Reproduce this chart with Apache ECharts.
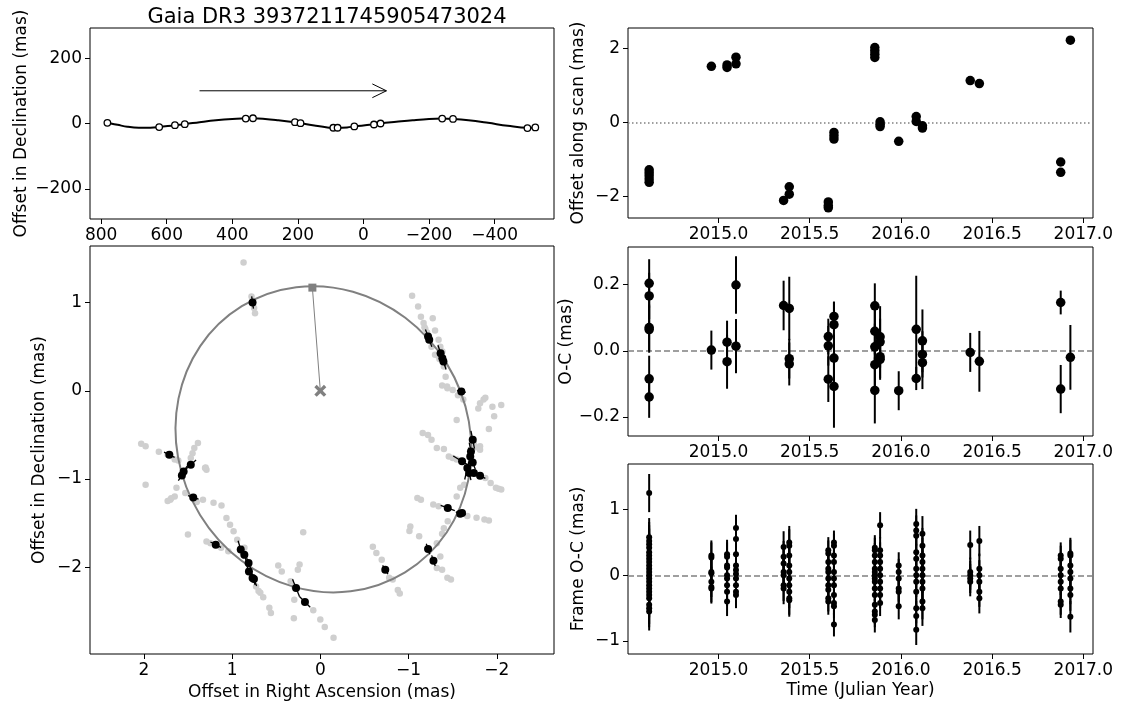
<!DOCTYPE html>
<html><head><meta charset="utf-8">
<script src="https://cdn.jsdelivr.net/npm/echarts@6/dist/echarts.min.js"></script>
<style>html,body{margin:0;padding:0;background:#fff}#c{width:1121px;height:706px}</style>
</head><body><div id="c"></div><script>
// ---------- Top-left: sky track ----------
const trackRA  = [781,750,720,685,650,623,575,545,500,450,400,359,337,300,260,209,192,150,110,92,79,50,28,-5,-32,-52,-100,-150,-200,-240,-273,-320,-380,-440,-500,-524];
const trackDec = [2,-4,-10,-13,-13,-11,-5,-2,4,10,14,15.5,16,14,10,4,1,-6,-12,-13,-13.5,-12,-9,-5,-3,0,5,10,14,15,14,10,2,-7,-13,-13];
const obsRA  = [781,623,575,545,359,337,209,192,92,79,28,-32,-52,-240,-273,-500,-524];
const obsDec = [2,-11,-5,-2,15,16,4,1,-13,-13,-9,-3,0,15,14,-14,-12];
const arrowShaftRA = [500,-70], arrowShaftDec = [100,100];
const arrowHeadRA = [-27,-70,-27], arrowHeadDec = [121,100,79];
const tlXTicks = [800,600,400,200,0,-200,-400];
const tlYTicks = [-200,0,200];

// ---------- Bottom-left: orbit ----------
// orbit ellipse: centre, semi-axes (mas), major-axis angle (deg, data frame)
const ellCenterRA = -0.035, ellCenterDec = -0.55;
const ellSemiMajor = 1.77, ellSemiMinor = 1.64, ellAngle = 58.5;
const grayRA  = [0.87,0.78,0.75,0.74,-1.04,-1.108,-1.14,-1.17,-1.18,-1.274,-1.30,-1.34,-1.36,-1.383,-1.26,-1.30,-1.40,-1.42,-1.436,-1.38,-1.44,-1.50,-1.85,-1.87,-1.95,-2.05,-1.81,-1.79,-1.545,-1.97,-1.91,-1.81,-1.81,-1.16,-1.22,-1.26,-1.32,-1.40,-1.456,-1.50,-1.545,-1.87,-1.93,-1.99,-2.05,-2.02,-1.545,-1.585,-1.63,-1.10,-1.14,-1.28,-1.34,-1.666,-1.77,-1.91,-1.86,-1.444,-1.40,-1.38,-1.02,-1.01,-1.12,-1.32,-1.36,-1.38,-1.44,-1.32,-1.48,-0.595,-0.635,-0.696,-0.78,-0.82,-0.878,-0.90,0.194,0.477,0.437,0.235,0.255,0.336,0.295,0.295,0.30,0.08,0.0,-0.05,-0.15,0.578,0.56,0.728,0.68,0.647,0.70,1.064,1.023,0.983,0.942,1.29,1.245,1.124,1.043,1.21,1.12,1.50,1.33,1.387,1.428,1.448,1.468,1.306,1.29,1.30,1.65,1.61,1.83,1.73,2.03,1.98,1.98,1.70,1.65,1.63,1.53,1.40,-1.19,-1.21,-1.33,-1.35,-1.56,-1.62,-1.74,-1.76,1.69,1.73,0.86,0.88];
const grayDec = [1.455,1.07,0.94,0.88,1.077,0.956,0.84,0.77,0.72,0.824,0.684,0.578,0.50,0.446,0.50,0.41,0.276,0.16,0.05,0.06,0.03,0.01,-0.10,-0.08,-0.18,-0.16,-0.14,-0.2,-0.33,-0.29,-0.434,-0.63,-0.67,-0.48,-0.50,-0.555,-0.65,-0.66,-0.744,-0.763,-0.78,-0.99,-1.046,-1.10,-1.12,-1.11,-1.20,-1.10,-1.065,-1.215,-1.235,-1.29,-1.31,-1.42,-1.44,-1.47,-1.46,-1.48,-1.56,-1.62,-1.54,-1.59,-1.65,-1.73,-1.88,-2.03,-2.12,-2.01,-2.14,-1.77,-1.84,-1.915,-2.12,-2.14,-2.26,-2.30,-1.605,-1.98,-2.05,-1.97,-2.03,-2.16,-2.22,-2.37,-2.58,-2.49,-2.595,-2.68,-2.80,-2.46,-2.52,-2.22,-2.29,-2.34,-2.27,-1.443,-1.519,-1.594,-1.689,-1.71,-1.73,-1.78,-1.82,-1.27,-1.30,-1.63,-1.235,-0.593,-0.65,-0.707,-0.763,-0.876,-0.895,-0.87,-0.78,-0.79,-0.69,-0.725,-0.60,-0.63,-1.065,-1.235,-1.198,-1.10,-1.16,-1.26,0.70,0.66,0.40,0.36,-0.05,-0.1,-0.6,-0.64,-1.22,-1.25,-1.78,-1.83];
const blackRA  = [0.768,-1.221,-1.234,-1.363,-1.383,-1.395,-1.598,-1.727,-1.707,-1.699,-1.606,-1.727,-1.666,-1.687,-1.74,-1.81,-1.444,-1.585,-1.606,-1.221,-1.282,-0.736,0.275,0.174,1.185,0.902,0.861,0.813,0.809,0.768,0.752,1.711,1.468,1.549,1.569,1.44];
const blackDec = [1.001,0.616,0.578,0.427,0.37,0.332,-0.008,-0.555,-0.688,-0.744,-0.80,-0.812,-0.876,-0.933,-0.933,-0.963,-1.33,-1.394,-1.386,-1.794,-1.927,-2.029,-2.237,-2.395,-1.745,-1.80,-1.86,-1.953,-2.048,-2.123,-2.135,-0.725,-0.839,-0.914,-0.96,-1.209];
const blackErrRA  = [0.01,0.03,0.03,0.03,0.03,0.03,-0.05,0.02,0.02,0.02,-0.1,0.03,-0.03,0.02,-0.06,-0.06,-0.08,-0.05,-0.04,0.02,0.02,0.03,0.04,-0.06,-0.06,-0.03,-0.03,-0.03,-0.03,-0.03,-0.03,-0.06,-0.06,-0.04,-0.04,-0.06];
const blackErrDec = [0.07,0.08,0.08,0.09,0.09,0.09,-0.01,0.1,0.1,0.1,-0.06,0.08,0.13,0.08,-0.03,-0.03,-0.03,-0.02,-0.02,0.06,0.06,0.05,0.1,-0.06,-0.03,-0.1,-0.1,-0.08,-0.08,-0.08,-0.08,-0.03,0.055,0.06,0.06,-0.02];
const periRA = [0.09], periDec = [1.17];
const centerRA = [0], centerDec = [0];
const blXTicks = [2,1,0,-1,-2];
const blYTicks = [-2,-1,0,1];

// ---------- Right: time series ----------
const timeTicks = [2015.0,2015.5,2016.0,2016.5,2017.0];
const scanTimes  = [2014.62,2014.62,2014.62,2014.62,2014.62,2014.961,2015.047,2015.047,2015.096,2015.096,2015.357,2015.388,2015.388,2015.602,2015.602,2015.602,2015.633,2015.633,2015.633,2015.857,2015.857,2015.857,2015.857,2015.886,2015.886,2015.886,2015.988,2016.084,2016.084,2016.118,2016.118,2016.38,2016.43,2016.876,2016.876,2016.929];
const scanValues = [-1.28,-1.36,-1.44,-1.53,-1.62,1.52,1.56,1.49,1.77,1.59,-2.11,-1.74,-1.94,-2.15,-2.25,-2.31,-0.27,-0.36,-0.45,2.03,1.94,1.85,1.76,0.02,-0.05,-0.11,-0.51,0.16,0.03,-0.09,-0.15,1.135,1.054,-1.07,-1.35,2.23];
const scanYTicks = [-2,0,2];

const ocTimes  = [2014.62,2014.62,2014.62,2014.62,2014.62,2014.62,2014.961,2015.047,2015.047,2015.096,2015.096,2015.357,2015.388,2015.388,2015.388,2015.602,2015.602,2015.602,2015.633,2015.633,2015.633,2015.633,2015.857,2015.857,2015.857,2015.857,2015.857,2015.886,2015.886,2015.886,2015.886,2015.988,2016.084,2016.084,2016.118,2016.118,2016.118,2016.38,2016.43,2016.876,2016.876,2016.929];
const ocValues = [0.204,0.166,0.07,0.064,-0.085,-0.14,0.002,0.026,-0.033,0.199,0.014,0.137,0.128,-0.024,-0.04,0.043,0.015,-0.086,0.104,0.079,-0.022,-0.108,0.136,0.059,0.012,-0.042,-0.12,0.042,0.027,-0.018,-0.026,-0.121,0.065,-0.084,0.03,-0.011,-0.036,-0.005,-0.032,0.146,-0.116,-0.02];
const ocErrs   = [0.073,0.07,0.07,0.07,0.07,0.063,0.059,0.065,0.082,0.087,0.082,0.075,0.096,0.06,0.065,0.054,0.06,0.069,0.043,0.07,0.07,0.125,0.068,0.07,0.07,0.07,0.1,0.093,0.07,0.07,0.057,0.059,0.162,0.035,0.095,0.07,0.08,0.059,0.092,0.036,0.073,0.098];
const ocYTicks = [-0.2,0.0,0.2];

const frameTimes = [2014.62,2014.961,2015.047,2015.096,2015.357,2015.388,2015.602,2015.633,2015.857,2015.886,2015.988,2016.084,2016.118,2016.38,2016.43,2016.876,2016.929];
const frameValues = [
  [1.25,0.58,0.52,0.47,0.42,0.35,0.3,0.25,0.2,0.15,0.1,0.05,0.0,-0.05,-0.1,-0.15,-0.2,-0.25,-0.3,-0.35,-0.45,-0.5,-0.55],
  [0.3,0.27,0.05,0.03,-0.1,-0.18,-0.2],
  [0.32,0.28,0.15,0.12,0.0,-0.05,-0.15,-0.25,-0.4],
  [0.72,0.55,0.32,0.15,0.08,0.02,-0.05,-0.15,-0.25,-0.3],
  [0.43,0.28,0.18,0.05,0.0,-0.15,-0.2],
  [0.5,0.45,0.3,0.15,0.05,-0.05,-0.15,-0.25,-0.35,-0.38],
  [0.38,0.33,0.2,0.1,0.05,-0.05,-0.15,-0.22,-0.35,-0.4],
  [0.5,0.45,0.3,0.2,0.05,-0.05,-0.15,-0.3,-0.42,-0.47,-0.75],
  [0.42,0.38,0.3,0.2,0.1,0.05,0.0,-0.05,-0.1,-0.2,-0.3,-0.45,-0.55,-0.6,-0.68],
  [0.76,0.38,0.3,0.2,0.1,0.0,-0.1,-0.2,-0.3,-0.42],
  [0.15,0.05,-0.05,-0.2,-0.25,-0.47],
  [0.78,0.68,0.6,0.35,0.25,0.1,0.0,-0.1,-0.25,-0.5,-0.62,-0.83],
  [0.63,0.45,0.3,0.2,0.1,0.0,-0.1,-0.2,-0.4,-0.5],
  [0.46,0.05,0.0,-0.05,-0.1],
  [0.52,0.1,0.0,-0.1,-0.25,-0.35],
  [0.3,0.25,0.1,0.0,-0.1,-0.2,-0.4,-0.45],
  [0.33,0.3,0.15,0.05,-0.05,-0.2,-0.3,-0.63]
];
const frameErrs = [0.29,0.23,0.22,0.2,0.24,0.25,0.2,0.18,0.19,0.2,0.2,0.23,0.27,0.22,0.23,0.2,0.24];
const frameYTicks = [-1,0,1];

// ---------- build ----------
const FONT = 'DejaVu Sans';
const FS = 17;
const fmt = d => v => { const s = Math.abs(v).toFixed(d); return v < 0 ? '\u2212' + s : s; };
const zip = (a, b) => a.map((x, i) => [x, b[i]]);

const L = 90, LW = 464, R = 628, RW = 465;
const grids = [
  {left: L, top: 28, width: LW, height: 191},
  {left: L, top: 246, width: LW, height: 408},
  {left: R, top: 28, width: RW, height: 190},
  {left: R, top: 247, width: RW, height: 189},
  {left: R, top: 464, width: RW, height: 190}
].map(g => Object.assign(g, {show: true, borderColor: '#000', borderWidth: 1, backgroundColor: '#fff', containLabel: false, outerBoundsMode: 'none'}));

function axis(gi, min, max, ticks, dec, extra) {
  return Object.assign({
    type: 'value', gridIndex: gi, min: min, max: max,
    axisLine: {show: false, onZero: false},
    axisTick: {show: true, length: 5, customValues: ticks, lineStyle: {color: '#000', width: 1}},
    axisLabel: {customValues: ticks, formatter: fmt(dec), fontSize: FS, fontFamily: FONT, color: '#000', margin: 8},
    splitLine: {show: false},
    nameTextStyle: {fontSize: FS, fontFamily: FONT, color: '#000'}
  }, extra || {});
}
const yName = (name, gap) => ({name: name, nameLocation: 'middle', nameRotate: 90, nameGap: gap});
const xName = (name, gap) => ({name: name, nameLocation: 'middle', nameGap: gap});

const xAxes = [
  axis(0, -581, 834, tlXTicks, 0, {inverse: true}),
  axis(1, -2.648, 2.61, blXTicks, 0, Object.assign({inverse: true}, xName('Offset in Right Ascension (mas)', 27))),
  axis(2, 2014.504, 2017.053, timeTicks, 1),
  axis(3, 2014.504, 2017.053, timeTicks, 1),
  axis(4, 2014.504, 2017.053, timeTicks, 1, xName('Time (Julian Year)', 28))
];
const yAxes = [
  axis(0, -292, 292, tlYTicks, 0, yName('Offset in Declination (mas)', 60)),
  axis(1, -2.985, 1.642, blYTicks, 0, yName('Offset in Declination (mas)', 42)),
  axis(2, -2.586, 2.559, scanYTicks, 0, yName('Offset along scan (mas)', 41)),
  axis(3, -0.258, 0.314, ocYTicks, 1, yName('O-C (mas)', 41)),
  axis(4, -1.197, 1.692, frameYTicks, 0, yName('Frame O-C (mas)', 41))
];

function errSeg(gi, data, color, width) {
  return {
    type: 'custom', xAxisIndex: gi, yAxisIndex: gi, data: data, encode: {x: 0, y: 1}, z: 4, silent: true,
    renderItem: (p, api) => {
      const x = api.value(0), y = api.value(1), dx = api.value(2), dy = api.value(3);
      const a = api.coord([x - dx, y - dy]), b = api.coord([x + dx, y + dy]);
      return {type: 'line', shape: {x1: a[0], y1: a[1], x2: b[0], y2: b[1]}, style: {stroke: color, lineWidth: width}};
    }
  };
}

// orbit ellipse drawn as a library ellipse element, positioned through the axes
const ellipseSeries = {
  type: 'custom', xAxisIndex: 1, yAxisIndex: 1, z: 2, silent: true,
  data: [[ellCenterRA, ellCenterDec, ellSemiMajor, ellSemiMinor, ellAngle]],
  encode: {x: 0, y: 1},
  renderItem: (p, api) => {
    const cx = api.value(0), cy = api.value(1), a = api.value(2), b = api.value(3), ang = api.value(4) * Math.PI / 180;
    const c = api.coord([cx, cy]);
    const pa = api.coord([cx + a * Math.cos(ang), cy + a * Math.sin(ang)]);
    const pb = api.coord([cx - b * Math.sin(ang), cy + b * Math.cos(ang)]);
    const rx = Math.hypot(pa[0] - c[0], pa[1] - c[1]);
    const ry = Math.hypot(pb[0] - c[0], pb[1] - c[1]);
    const phi = Math.atan2(pa[1] - c[1], pa[0] - c[0]);
    return {type: 'ellipse', x: c[0], y: c[1], rotation: -phi,
            shape: {cx: 0, cy: 0, rx: rx, ry: ry},
            style: {fill: 'none', stroke: '#808080', lineWidth: 2}};
  }
};

const frameData = [], frameBars = [];
frameTimes.forEach((t, i) => frameValues[i].forEach(v => { frameData.push([t, v]); frameBars.push([t, v, 0, frameErrs[i]]); }));

const dot = (c) => ({color: c, opacity: 1});
const series = [
  // top-left
  {type: 'line', xAxisIndex: 0, yAxisIndex: 0, data: zip(trackRA, trackDec), smooth: 0.4, showSymbol: false, symbol: 'none', lineStyle: {color: '#000', width: 2}, z: 2},
  {type: 'scatter', xAxisIndex: 0, yAxisIndex: 0, data: zip(obsRA, obsDec), symbol: 'circle', symbolSize: 6.5, itemStyle: {color: '#fff', borderColor: '#000', borderWidth: 1.3, opacity: 1}, z: 3},
  {type: 'line', xAxisIndex: 0, yAxisIndex: 0, data: zip(arrowShaftRA, arrowShaftDec), symbol: 'none', lineStyle: {color: '#000', width: 1}},
  {type: 'line', xAxisIndex: 0, yAxisIndex: 0, data: zip(arrowHeadRA, arrowHeadDec), symbol: 'none', lineStyle: {color: '#000', width: 1}},
  // orbit
  {type: 'scatter', xAxisIndex: 1, yAxisIndex: 1, data: zip(grayRA, grayDec), symbolSize: 6.5, itemStyle: dot('#cfcfcf'), z: 1},
  ellipseSeries,
  {type: 'line', xAxisIndex: 1, yAxisIndex: 1, data: [[periRA[0], periDec[0]], [centerRA[0], centerDec[0]]], symbol: 'none', lineStyle: {color: '#808080', width: 1}, z: 2},
  {type: 'scatter', xAxisIndex: 1, yAxisIndex: 1, data: zip(periRA, periDec), symbol: 'rect', symbolSize: 8, itemStyle: dot('#808080'), z: 3},
  {type: 'scatter', xAxisIndex: 1, yAxisIndex: 1, data: zip(centerRA, centerDec), symbol: 'path://M2,0 L5,3 L8,0 L10,2 L7,5 L10,8 L8,10 L5,7 L2,10 L0,8 L3,5 L0,2 Z', symbolSize: 12, itemStyle: dot('#808080'), z: 3},
  errSeg(1, blackRA.map((x, i) => [x, blackDec[i], blackErrRA[i], blackErrDec[i]]), '#000', 1.3),
  {type: 'scatter', xAxisIndex: 1, yAxisIndex: 1, data: zip(blackRA, blackDec), symbolSize: 8, itemStyle: dot('#000'), z: 5},
  // scan offsets
  {type: 'scatter', xAxisIndex: 2, yAxisIndex: 2, data: zip(scanTimes, scanValues), symbolSize: 9.5, itemStyle: dot('#000'), z: 5,
   markLine: {silent: true, symbol: 'none', label: {show: false}, lineStyle: {color: '#808080', type: [1.5, 2.5], width: 1.5}, data: [{yAxis: 0}], z: 1}},
  // O-C
  errSeg(3, ocTimes.map((t, i) => [t, ocValues[i], 0, ocErrs[i]]), '#000', 2),
  {type: 'scatter', xAxisIndex: 3, yAxisIndex: 3, data: zip(ocTimes, ocValues), symbolSize: 9.5, itemStyle: dot('#000'), z: 5,
   markLine: {silent: true, symbol: 'none', label: {show: false}, lineStyle: {color: '#808080', type: [6, 3], width: 1.5}, data: [{yAxis: 0}], z: 1}},
  // Frame O-C
  errSeg(4, frameBars, '#000', 2),
  {type: 'scatter', xAxisIndex: 4, yAxisIndex: 4, data: frameData, symbolSize: 6, itemStyle: dot('#000'), z: 5,
   markLine: {silent: true, symbol: 'none', label: {show: false}, lineStyle: {color: '#808080', type: [6, 3], width: 1.5}, data: [{yAxis: 0}], z: 1}}
];

const chart = echarts.init(document.getElementById('c'), null, {renderer: 'canvas'});
chart.setOption({
  animation: false,
  backgroundColor: '#fff',
  title: {text: 'Gaia DR3 3937211745905473024', left: 322, top: 2, textAlign: 'center',
          textStyle: {fontSize: 21, fontWeight: 'normal', fontFamily: FONT, color: '#000'}},
  grid: grids, xAxis: xAxes, yAxis: yAxes, series: series
});
</script></body></html>
